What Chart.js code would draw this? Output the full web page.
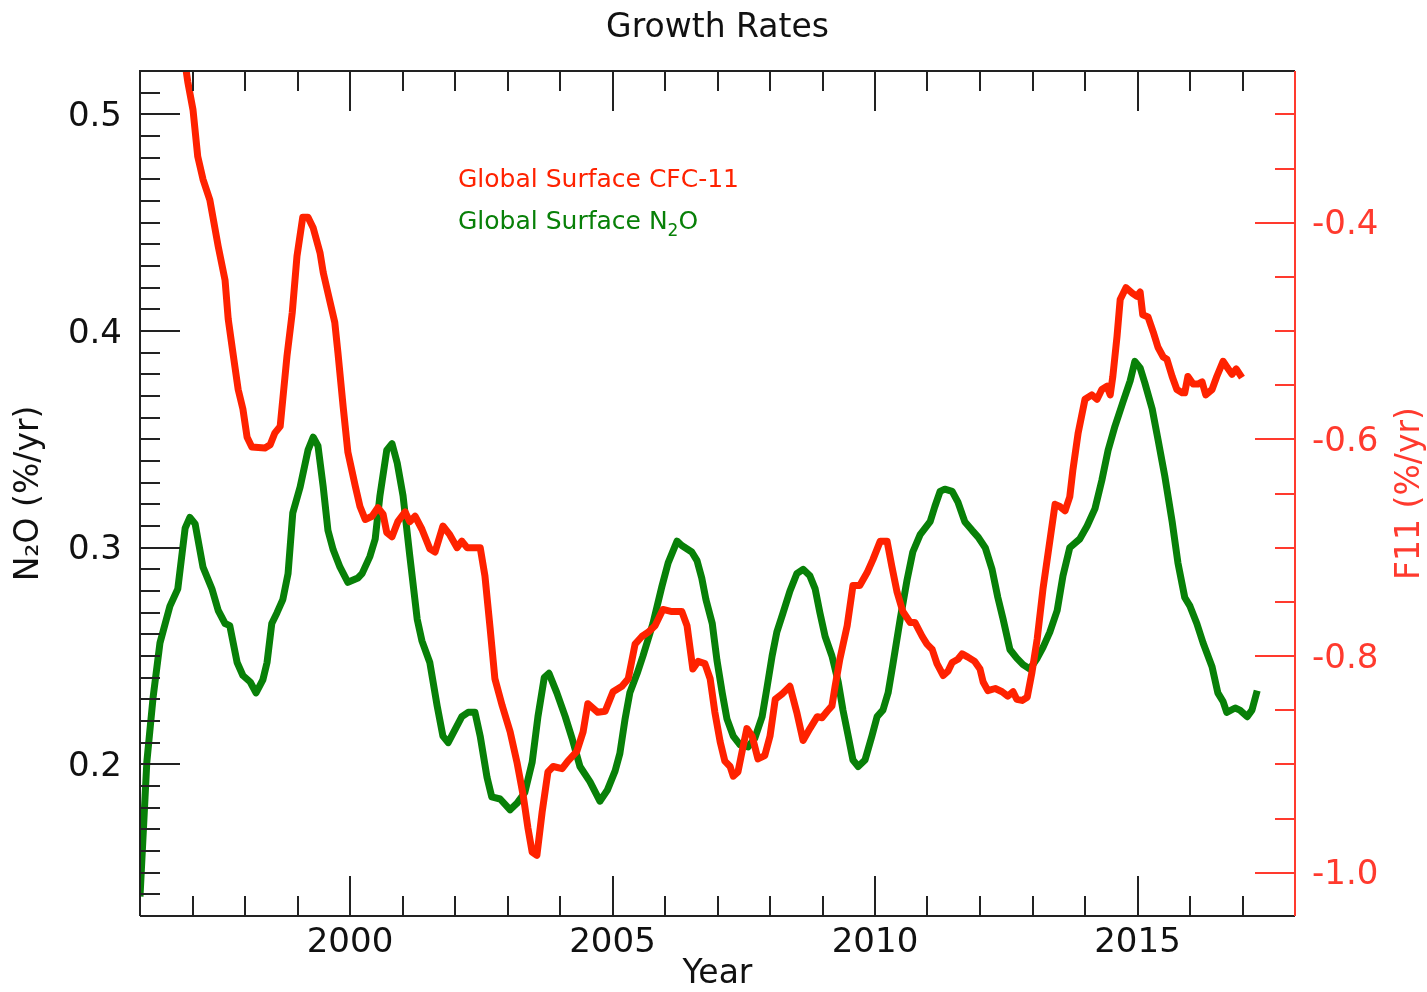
<!DOCTYPE html>
<html>
<head>
<meta charset="utf-8">
<title>Growth Rates</title>
<script src="https://cdn.jsdelivr.net/npm/chart.js@4.4.1/dist/chart.umd.min.js"></script>
<style>
  html, body { margin: 0; padding: 0; background: #fff; }
  canvas { display: block; }
</style>
</head>
<body>
<canvas id="growth-rates" width="1427" height="992"></canvas>
<script>
// N2O growth rate (%/yr)
const n2oYears = [
    1996.00, 1996.13, 1996.25, 1996.38, 1996.57, 1996.72, 1996.86, 1996.95, 1997.05, 1997.20,
    1997.37, 1997.49, 1997.62, 1997.71, 1997.85, 1997.96, 1998.10, 1998.21, 1998.34, 1998.42,
    1998.51, 1998.61, 1998.72, 1998.82, 1998.91, 1999.05, 1999.20, 1999.30, 1999.39, 1999.49,
    1999.58, 1999.68, 1999.81, 1999.96, 2000.15, 2000.23, 2000.38, 2000.48, 2000.57, 2000.70,
    2000.80, 2000.90, 2001.01, 2001.14, 2001.28, 2001.37, 2001.52, 2001.66, 2001.77, 2001.87,
    2002.00, 2002.13, 2002.25, 2002.38, 2002.48, 2002.61, 2002.70, 2002.86, 2003.05, 2003.18,
    2003.33, 2003.47, 2003.58, 2003.70, 2003.79, 2003.94, 2004.10, 2004.23, 2004.38, 2004.57,
    2004.76, 2004.90, 2005.05, 2005.14, 2005.24, 2005.33, 2005.47, 2005.58, 2005.77, 2005.94,
    2006.06, 2006.23, 2006.32, 2006.51, 2006.61, 2006.70, 2006.78, 2006.90, 2006.99, 2007.09,
    2007.18, 2007.30, 2007.43, 2007.58, 2007.71, 2007.85, 2007.94, 2008.04, 2008.13, 2008.25,
    2008.38, 2008.51, 2008.63, 2008.76, 2008.86, 2008.95, 2009.05, 2009.18, 2009.30, 2009.39,
    2009.49, 2009.58, 2009.68, 2009.81, 2009.94, 2010.04, 2010.15, 2010.25, 2010.34, 2010.48,
    2010.61, 2010.72, 2010.86, 2011.05, 2011.14, 2011.24, 2011.33, 2011.47, 2011.58, 2011.71,
    2011.85, 2011.96, 2012.10, 2012.23, 2012.34, 2012.44, 2012.57, 2012.70, 2012.82, 2012.95,
    2013.09, 2013.20, 2013.33, 2013.47, 2013.58, 2013.71, 2013.90, 2014.04, 2014.19, 2014.32,
    2014.44, 2014.57, 2014.72, 2014.86, 2014.95, 2015.05, 2015.14, 2015.28, 2015.39, 2015.52,
    2015.66, 2015.77, 2015.90, 2016.00, 2016.13, 2016.25, 2016.42, 2016.53, 2016.63, 2016.70,
    2016.86, 2016.95, 2017.09, 2017.18, 2017.28
];
const n2oRates = [
    0.139, 0.201, 0.231, 0.256, 0.273, 0.281, 0.309, 0.314, 0.311, 0.291,
    0.281, 0.271, 0.265, 0.264, 0.247, 0.241, 0.238, 0.233, 0.239, 0.247,
    0.265, 0.270, 0.276, 0.288, 0.316, 0.328, 0.345, 0.351, 0.347, 0.328,
    0.308, 0.299, 0.291, 0.284, 0.286, 0.288, 0.296, 0.304, 0.324, 0.345,
    0.348, 0.339, 0.324, 0.296, 0.267, 0.257, 0.247, 0.227, 0.213, 0.210,
    0.216, 0.222, 0.224, 0.224, 0.213, 0.194, 0.185, 0.184, 0.179, 0.182,
    0.187, 0.201, 0.222, 0.240, 0.242, 0.233, 0.222, 0.212, 0.199, 0.192,
    0.183, 0.188, 0.197, 0.205, 0.221, 0.233, 0.242, 0.250, 0.265, 0.282,
    0.293, 0.303, 0.301, 0.298, 0.294, 0.286, 0.276, 0.265, 0.248, 0.233,
    0.221, 0.213, 0.209, 0.208, 0.212, 0.222, 0.235, 0.250, 0.261, 0.270,
    0.280, 0.288, 0.290, 0.287, 0.281, 0.270, 0.259, 0.250, 0.238, 0.225,
    0.213, 0.202, 0.199, 0.202, 0.213, 0.222, 0.225, 0.233, 0.246, 0.267,
    0.285, 0.298, 0.306, 0.312, 0.319, 0.326, 0.327, 0.326, 0.321, 0.312,
    0.308, 0.305, 0.300, 0.290, 0.277, 0.267, 0.253, 0.249, 0.246, 0.244,
    0.249, 0.254, 0.261, 0.271, 0.287, 0.300, 0.304, 0.310, 0.318, 0.331,
    0.345, 0.356, 0.367, 0.377, 0.386, 0.383, 0.376, 0.364, 0.350, 0.333,
    0.312, 0.293, 0.277, 0.273, 0.265, 0.256, 0.245, 0.233, 0.229, 0.224,
    0.226, 0.225, 0.222, 0.225, 0.234
];

// CFC-11 growth rate (%/yr)
const f11Years = [
    1996.79, 1996.91, 1997.01, 1997.10, 1997.20, 1997.33, 1997.49, 1997.62, 1997.68, 1997.77,
    1997.87, 1997.96, 1998.04, 1998.13, 1998.38, 1998.48, 1998.57, 1998.67, 1998.72, 1998.80,
    1998.90, 1998.99, 1999.10, 1999.20, 1999.30, 1999.43, 1999.49, 1999.58, 1999.71, 1999.77,
    1999.87, 1999.96, 2000.10, 2000.19, 2000.29, 2000.42, 2000.53, 2000.63, 2000.70, 2000.80,
    2000.91, 2001.05, 2001.14, 2001.24, 2001.37, 2001.52, 2001.62, 2001.77, 2001.90, 2002.04,
    2002.13, 2002.23, 2002.48, 2002.57, 2002.67, 2002.76, 2002.90, 2003.05, 2003.18, 2003.30,
    2003.39, 2003.47, 2003.56, 2003.66, 2003.77, 2003.87, 2004.04, 2004.15, 2004.32, 2004.44,
    2004.53, 2004.72, 2004.86, 2005.01, 2005.18, 2005.30, 2005.43, 2005.56, 2005.68, 2005.81,
    2005.96, 2006.13, 2006.23, 2006.32, 2006.42, 2006.53, 2006.63, 2006.76, 2006.86, 2006.95,
    2007.05, 2007.14, 2007.24, 2007.30, 2007.39, 2007.49, 2007.56, 2007.66, 2007.77, 2007.90,
    2008.00, 2008.10, 2008.23, 2008.38, 2008.51, 2008.63, 2008.76, 2008.90, 2008.99, 2009.09,
    2009.18, 2009.24, 2009.33, 2009.47, 2009.58, 2009.71, 2009.85, 2009.96, 2010.10, 2010.23,
    2010.32, 2010.42, 2010.53, 2010.67, 2010.76, 2010.90, 2010.99, 2011.09, 2011.18, 2011.30,
    2011.39, 2011.47, 2011.58, 2011.66, 2011.77, 2011.90, 2012.00, 2012.06, 2012.15, 2012.29,
    2012.42, 2012.53, 2012.63, 2012.70, 2012.80, 2012.90, 2012.99, 2013.09, 2013.20, 2013.30,
    2013.43, 2013.52, 2013.62, 2013.71, 2013.77, 2013.87, 2014.00, 2014.13, 2014.23, 2014.32,
    2014.42, 2014.48, 2014.53, 2014.61, 2014.67, 2014.78, 2014.90, 2014.99, 2015.05, 2015.10,
    2015.20, 2015.30, 2015.39, 2015.49, 2015.56, 2015.66, 2015.75, 2015.85, 2015.90, 2015.96,
    2016.06, 2016.15, 2016.23, 2016.30, 2016.42, 2016.51, 2016.63, 2016.70, 2016.80, 2016.88,
    2016.99
];
const f11Rates = [
    -0.230, -0.270, -0.296, -0.339, -0.360, -0.379, -0.422, -0.453, -0.489, -0.520,
    -0.554, -0.572, -0.598, -0.607, -0.608, -0.605, -0.594, -0.588, -0.563, -0.523,
    -0.483, -0.431, -0.395, -0.395, -0.405, -0.428, -0.446, -0.465, -0.492, -0.520,
    -0.570, -0.612, -0.643, -0.662, -0.674, -0.671, -0.663, -0.669, -0.686, -0.690,
    -0.676, -0.667, -0.676, -0.671, -0.683, -0.701, -0.704, -0.680, -0.688, -0.700,
    -0.694, -0.700, -0.700, -0.726, -0.775, -0.821, -0.846, -0.870, -0.898, -0.929,
    -0.959, -0.981, -0.984, -0.944, -0.907, -0.902, -0.904, -0.897, -0.888, -0.870,
    -0.844, -0.852, -0.851, -0.833, -0.828, -0.821, -0.789, -0.782, -0.778, -0.772,
    -0.757, -0.759, -0.759, -0.759, -0.772, -0.812, -0.805, -0.807, -0.821, -0.852,
    -0.879, -0.897, -0.902, -0.911, -0.907, -0.883, -0.867, -0.874, -0.895, -0.892,
    -0.874, -0.840, -0.835, -0.828, -0.852, -0.878, -0.867, -0.856, -0.857, -0.851,
    -0.846, -0.828, -0.803, -0.772, -0.735, -0.735, -0.723, -0.711, -0.694, -0.694,
    -0.717, -0.741, -0.759, -0.769, -0.769, -0.782, -0.789, -0.794, -0.807, -0.818,
    -0.814, -0.806, -0.803, -0.798, -0.801, -0.805, -0.812, -0.824, -0.832, -0.830,
    -0.833, -0.837, -0.833, -0.840, -0.841, -0.838, -0.815, -0.784, -0.738, -0.704,
    -0.660, -0.662, -0.666, -0.653, -0.628, -0.594, -0.563, -0.559, -0.563, -0.554,
    -0.551, -0.559, -0.542, -0.505, -0.471, -0.460, -0.465, -0.468, -0.464, -0.485,
    -0.487, -0.501, -0.515, -0.524, -0.526, -0.542, -0.554, -0.557, -0.557, -0.542,
    -0.549, -0.549, -0.547, -0.559, -0.554, -0.542, -0.528, -0.533, -0.540, -0.535,
    -0.543
];

// tick labels
const yearTicks = [2000, 2005, 2010, 2015];
const n2oTicks = [0.2, 0.3, 0.4, 0.5];
const f11Ticks = [-1.0, -0.8, -0.6, -0.4];

const RED = '#ff2200';
const RED_AXIS = '#ff3a2e';
const GREEN = '#088008';
const FONT = "'DejaVu Sans', 'Liberation Sans', sans-serif";

const toPoints = (xs, ys) => xs.map((x, i) => ({ x: x, y: ys[i] }));

// inward ticks, frame, legend and the right axis title
const frameAndTicks = {
    id: 'frameAndTicks',
    afterDatasetsDraw (chart) {
        const { ctx, chartArea: area, scales } = chart;
        ctx.save();
        ctx.lineWidth = 2;
        ctx.lineCap = 'butt';

        ctx.strokeStyle = '#222';
        ctx.beginPath();
        for (let year = 1997; year <= 2017; year++) {
            const px = Math.round(scales.x.getPixelForValue(year));
            const len = yearTicks.includes(year) ? 40 : 20;
            ctx.moveTo(px, area.bottom);
            ctx.lineTo(px, area.bottom - len);
            ctx.moveTo(px, area.top);
            ctx.lineTo(px, area.top + len);
        }
        for (let k = 14; k <= 51; k++) {
            const py = Math.round(scales.yN2O.getPixelForValue(k / 100));
            const len = k % 10 === 0 ? 40 : 20;
            ctx.moveTo(area.left, py);
            ctx.lineTo(area.left + len, py);
        }
        ctx.moveTo(area.left, area.bottom);
        ctx.lineTo(area.left, area.top);
        ctx.lineTo(area.right, area.top);
        ctx.moveTo(area.left, area.bottom);
        ctx.lineTo(area.right, area.bottom);
        ctx.stroke();

        ctx.strokeStyle = RED_AXIS;
        ctx.beginPath();
        for (let k = -20; k <= -6; k++) {
            const py = Math.round(scales.yF11.getPixelForValue(k * 0.05));
            const len = k % 4 === 0 ? 40 : 20;
            ctx.moveTo(area.right, py);
            ctx.lineTo(area.right - len, py);
        }
        ctx.moveTo(area.right, area.top);
        ctx.lineTo(area.right, area.bottom);
        ctx.stroke();
        ctx.restore();
    },
    afterDraw (chart) {
        const { ctx, chartArea: area } = chart;
        ctx.save();

        ctx.textBaseline = 'alphabetic';
        ctx.textAlign = 'left';
        ctx.font = '25px ' + FONT;
        ctx.fillStyle = RED;
        ctx.fillText('Global Surface CFC-11', 458, 187);

        ctx.fillStyle = GREEN;
        let x = 458;
        const first = 'Global Surface N';
        ctx.fillText(first, x, 229);
        x += ctx.measureText(first).width;
        ctx.font = '17px ' + FONT;
        ctx.fillText('2', x, 236);
        x += ctx.measureText('2').width;
        ctx.font = '25px ' + FONT;
        ctx.fillText('O', x, 229);

        ctx.translate(1410, (area.top + area.bottom) / 2);
        ctx.rotate(-Math.PI / 2);
        ctx.textAlign = 'center';
        ctx.textBaseline = 'middle';
        ctx.font = '33px ' + FONT;
        ctx.fillStyle = RED_AXIS;
        ctx.fillText('F11 (%/yr)', 0, 0);
        ctx.restore();
    }
};

new Chart(
    document.getElementById('growth-rates'),
    {
        type: 'line',
        data: {
            datasets: [
                {
                    label: 'Global Surface CFC-11',
                    data: toPoints(f11Years, f11Rates),
                    yAxisID: 'yF11',
                    borderColor: RED,
                    borderWidth: 7,
                    borderJoinStyle: 'round',
                    pointRadius: 0,
                    tension: 0
                },
                {
                    label: 'Global Surface N\u2082O',
                    data: toPoints(n2oYears, n2oRates),
                    yAxisID: 'yN2O',
                    borderColor: GREEN,
                    borderWidth: 7,
                    borderJoinStyle: 'round',
                    pointRadius: 0,
                    tension: 0
                }
            ]
        },
        options: {
            responsive: false,
            animation: false,
            devicePixelRatio: 1,
            layout: { padding: 0 },
            plugins: {
                legend: { display: false },
                tooltip: { enabled: false },
                title: {
                    display: true,
                    text: 'Growth Rates',
                    fullSize: false,
                    color: '#111',
                    font: { family: FONT, size: 33, weight: 'normal', lineHeight: 1.2 },
                    padding: { top: 9, bottom: 22.4 }
                }
            },
            scales: {
                x: {
                    type: 'linear',
                    min: 1996,
                    max: 2018,
                    grid: { display: false, drawTicks: false },
                    border: { display: false },
                    afterBuildTicks: (scale) => {
                        scale.ticks = yearTicks.map(v => ({ value: v }));
                    },
                    afterFit: (scale) => {
                        scale.height = 76;
                    },
                    ticks: {
                        autoSkip: false,
                        maxRotation: 0,
                        padding: 7,
                        color: '#111',
                        font: { family: FONT, size: 34, lineHeight: 1.2 },
                        callback: (value) => String(value)
                    },
                    title: {
                        display: true,
                        text: 'Year',
                        color: '#111',
                        font: { family: FONT, size: 33, lineHeight: 1.05 },
                        padding: { top: 0, bottom: 0 }
                    }
                },
                yN2O: {
                    type: 'linear',
                    position: 'left',
                    min: 0.13,
                    max: 0.52,
                    grid: { display: false, drawTicks: false },
                    border: { display: false },
                    afterBuildTicks: (scale) => {
                        scale.ticks = n2oTicks.map(v => ({ value: v }));
                    },
                    afterFit: (scale) => {
                        scale.width = 140;
                    },
                    ticks: {
                        padding: 18,
                        labelOffset: 3,
                        color: '#111',
                        font: { family: FONT, size: 34 },
                        callback: (value) => value.toFixed(1)
                    },
                    title: {
                        display: true,
                        text: 'N\u2082O (%/yr)',
                        color: '#111',
                        font: { family: FONT, size: 33, lineHeight: 1.2 },
                        padding: { top: 10, bottom: 0 }
                    }
                },
                yF11: {
                    type: 'linear',
                    position: 'right',
                    min: -1.04,
                    max: -0.26,
                    grid: { display: false, drawTicks: false },
                    border: { display: false },
                    afterBuildTicks: (scale) => {
                        scale.ticks = f11Ticks.map(v => ({ value: v }));
                    },
                    afterFit: (scale) => {
                        scale.width = 132;
                    },
                    ticks: {
                        padding: 17,
                        labelOffset: 3,
                        color: RED_AXIS,
                        font: { family: FONT, size: 34 },
                        callback: (value) => value.toFixed(1)
                    }
                }
            }
        },
        plugins: [frameAndTicks]
    }
);
</script>
</body>
</html>
